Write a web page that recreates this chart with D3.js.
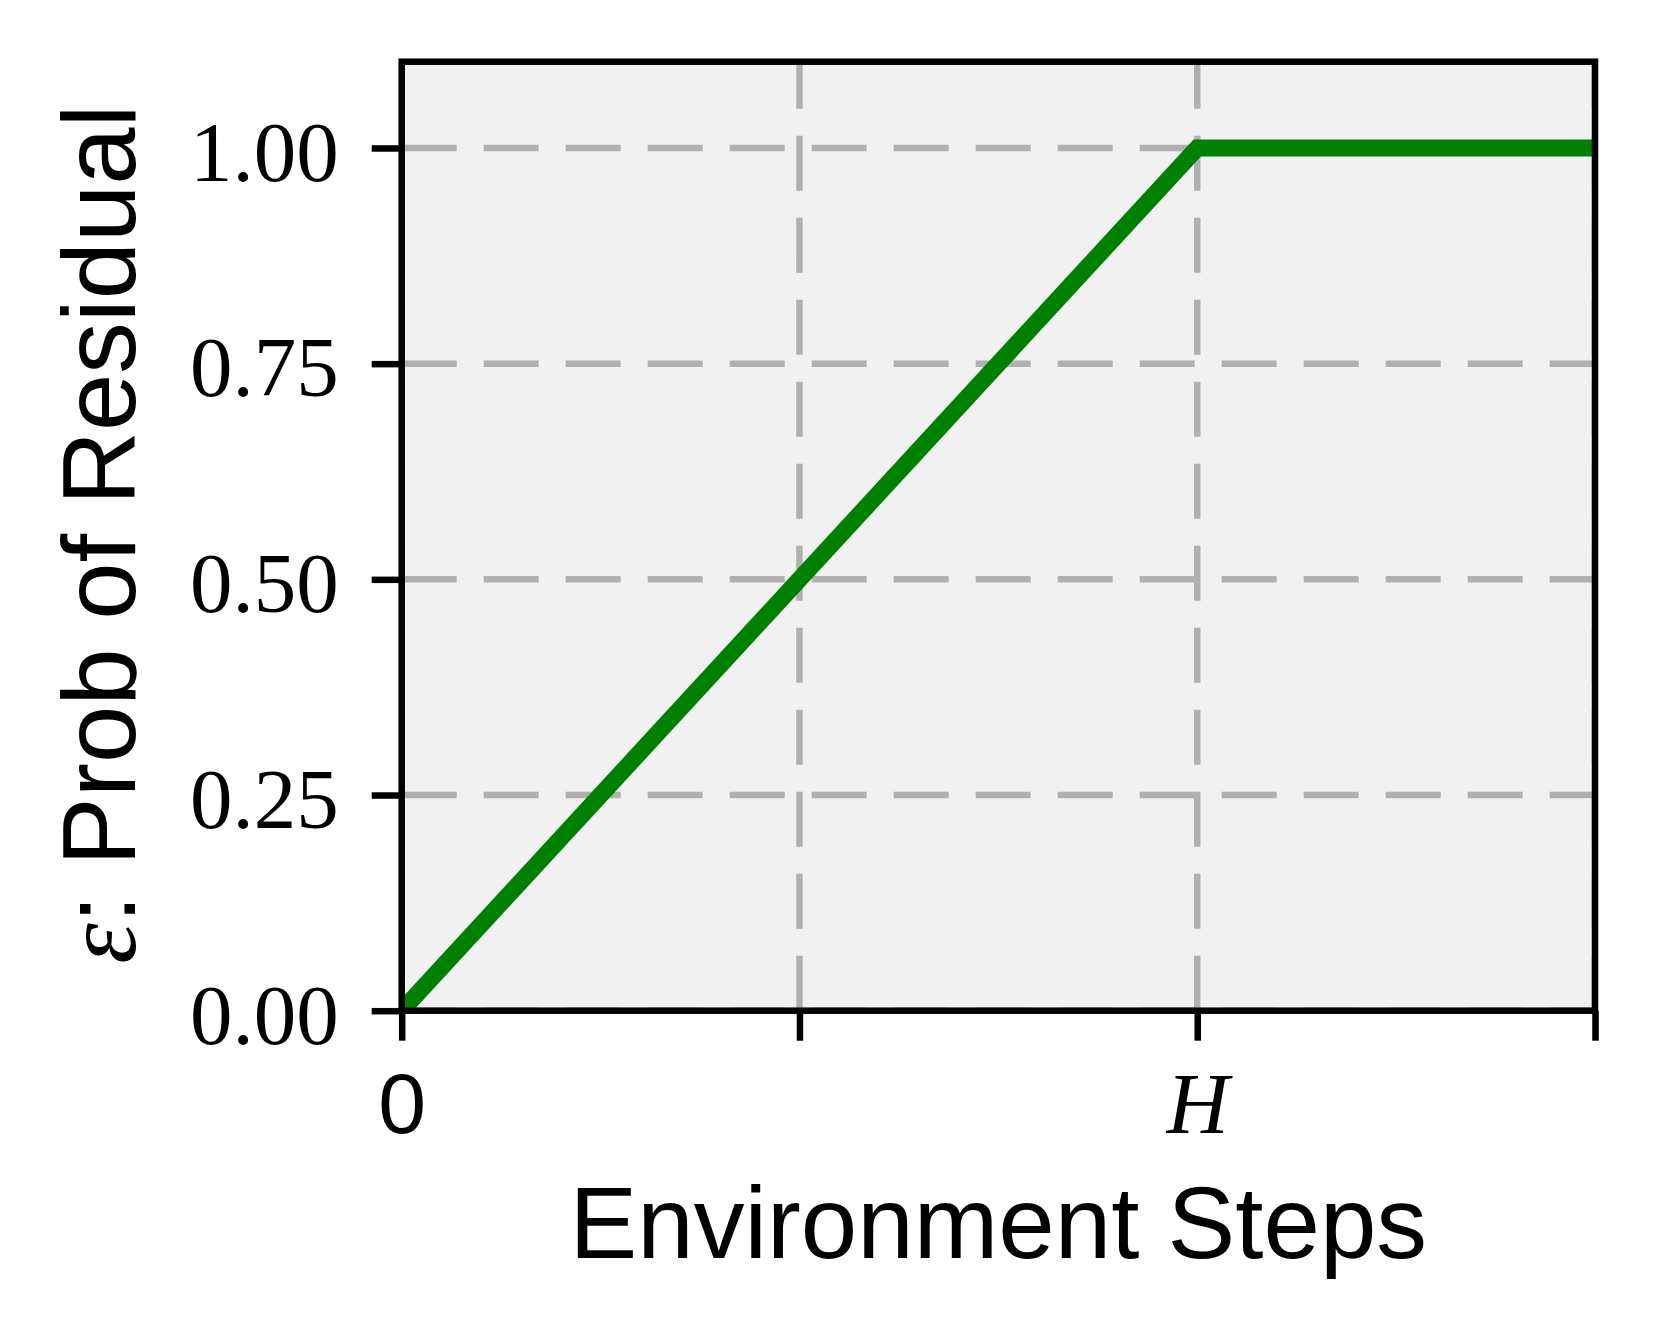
<!DOCTYPE html>
<html>
<head>
<meta charset="utf-8">
<script src="https://cdn.jsdelivr.net/npm/d3@7"></script>
<style>
  body { margin: 0; background: #fff; }
  svg { display: block; }
</style>
</head>
<body>
<div id="chart"></div>
<script>
// data: epsilon ramps from 0 to 1 over H steps, then stays at 1
const stepValues = [0, 2, 3];
const epsValues = [0, 1, 1];
const xTickValues = [0, 1, 2, 3];
const xTickLabels = ["0", "", "H", ""];
const yTickValues = [0, 0.25, 0.5, 0.75, 1.0];

const width = 1658, height = 1342;
const plotLeft = 401.7, plotRight = 1595, plotTop = 61.7, plotBottom = 1010.7;

const svg = d3.select("#chart").append("svg")
    .attr("width", width).attr("height", height);

let x = d3.scaleLinear().domain([0, 3]).range([plotLeft, plotRight]);
let y = d3.scaleLinear().domain([0, 1.1]).range([plotBottom, plotTop]);

// axes background
svg.append("rect")
    .attr("x", plotLeft).attr("y", plotTop)
    .attr("width", plotRight - plotLeft).attr("height", plotBottom - plotTop)
    .attr("fill", "#f1f1f1");

svg.append("clipPath").attr("id", "plotclip")
    .append("rect")
    .attr("x", plotLeft).attr("y", plotTop)
    .attr("width", plotRight - plotLeft).attr("height", plotBottom - plotTop);

// grid lines
let grid = svg.append("g").attr("clip-path", "url(#plotclip)");
grid.selectAll("line.gy").data(yTickValues).join("line")
    .attr("class", "gy")
    .attr("x1", plotLeft).attr("x2", plotRight)
    .attr("y1", d => y(d)).attr("y2", d => y(d))
    .attr("stroke", "#b0b0b0").attr("stroke-width", 6.5)
    .attr("stroke-dasharray", "55,27");
grid.selectAll("line.gx").data(xTickValues).join("line")
    .attr("class", "gx")
    .attr("x1", d => x(d)).attr("x2", d => x(d))
    .attr("y1", plotBottom).attr("y2", plotTop)
    .attr("stroke", "#b0b0b0").attr("stroke-width", 6.5)
    .attr("stroke-dasharray", "55,27");

// the curve
let line = d3.line().x((d, i) => x(stepValues[i])).y(d => y(d));
svg.append("path")
    .datum(epsValues)
    .attr("clip-path", "url(#plotclip)")
    .attr("d", line)
    .attr("fill", "none")
    .attr("stroke", "#008000")
    .attr("stroke-width", 17)
    .attr("stroke-linejoin", "miter");

// spines
svg.append("rect")
    .attr("x", plotLeft).attr("y", plotTop)
    .attr("width", plotRight - plotLeft).attr("height", plotBottom - plotTop)
    .attr("fill", "none").attr("stroke", "#000").attr("stroke-width", 6.5);

// y axis
let yAxis = svg.append("g")
    .attr("transform", `translate(${plotLeft},0)`)
    .call(d3.axisLeft(y).tickValues(yTickValues).tickSize(30).tickPadding(33)
        .tickFormat(d3.format(".2f")));
yAxis.select(".domain").remove();
yAxis.selectAll(".tick line").attr("stroke", "#000").attr("stroke-width", 6.5);
yAxis.selectAll(".tick text")
    .attr("dy", "0.38em")
    .attr("fill", "#000")
    .style("font-family", "'Liberation Serif', 'DejaVu Serif', serif")
    .style("font-size", "85px");

// x axis
let xAxis = svg.append("g")
    .attr("transform", `translate(0,${plotBottom})`)
    .call(d3.axisBottom(x).tickValues(xTickValues).tickSize(30)
        .tickFormat((d, i) => xTickLabels[i]));
xAxis.select(".domain").remove();
xAxis.selectAll(".tick line").attr("stroke", "#000").attr("stroke-width", 6.5);
xAxis.selectAll(".tick text")
    .attr("y", 122).attr("dy", 0)
    .attr("fill", "#000")
    .style("font-size", "86px")
    .style("font-family", d => d === 2 ? "'Liberation Serif', 'DejaVu Serif', serif" : "'Liberation Sans', Arial, sans-serif")
    .style("font-style", d => d === 2 ? "italic" : "normal");

// axis labels
svg.append("text")
    .attr("x", (plotLeft + plotRight) / 2).attr("y", 1258)
    .attr("text-anchor", "middle")
    .style("font-family", "'Liberation Sans', Arial, sans-serif")
    .style("font-size", "101.5px")
    .text("Environment Steps");

let ylab = svg.append("text")
    .attr("transform", `translate(135,${(plotTop + plotBottom) / 2 - 2}) rotate(-90)`)
    .attr("text-anchor", "middle")
    .style("font-family", "'Liberation Sans', Arial, sans-serif")
    .style("font-size", "103px");
ylab.append("tspan")
    .style("font-family", "'Liberation Serif', 'DejaVu Serif', serif")
    .style("font-style", "italic")
    .text("ε");
ylab.append("tspan").text(": Prob of Residual");
</script>
</body>
</html>
